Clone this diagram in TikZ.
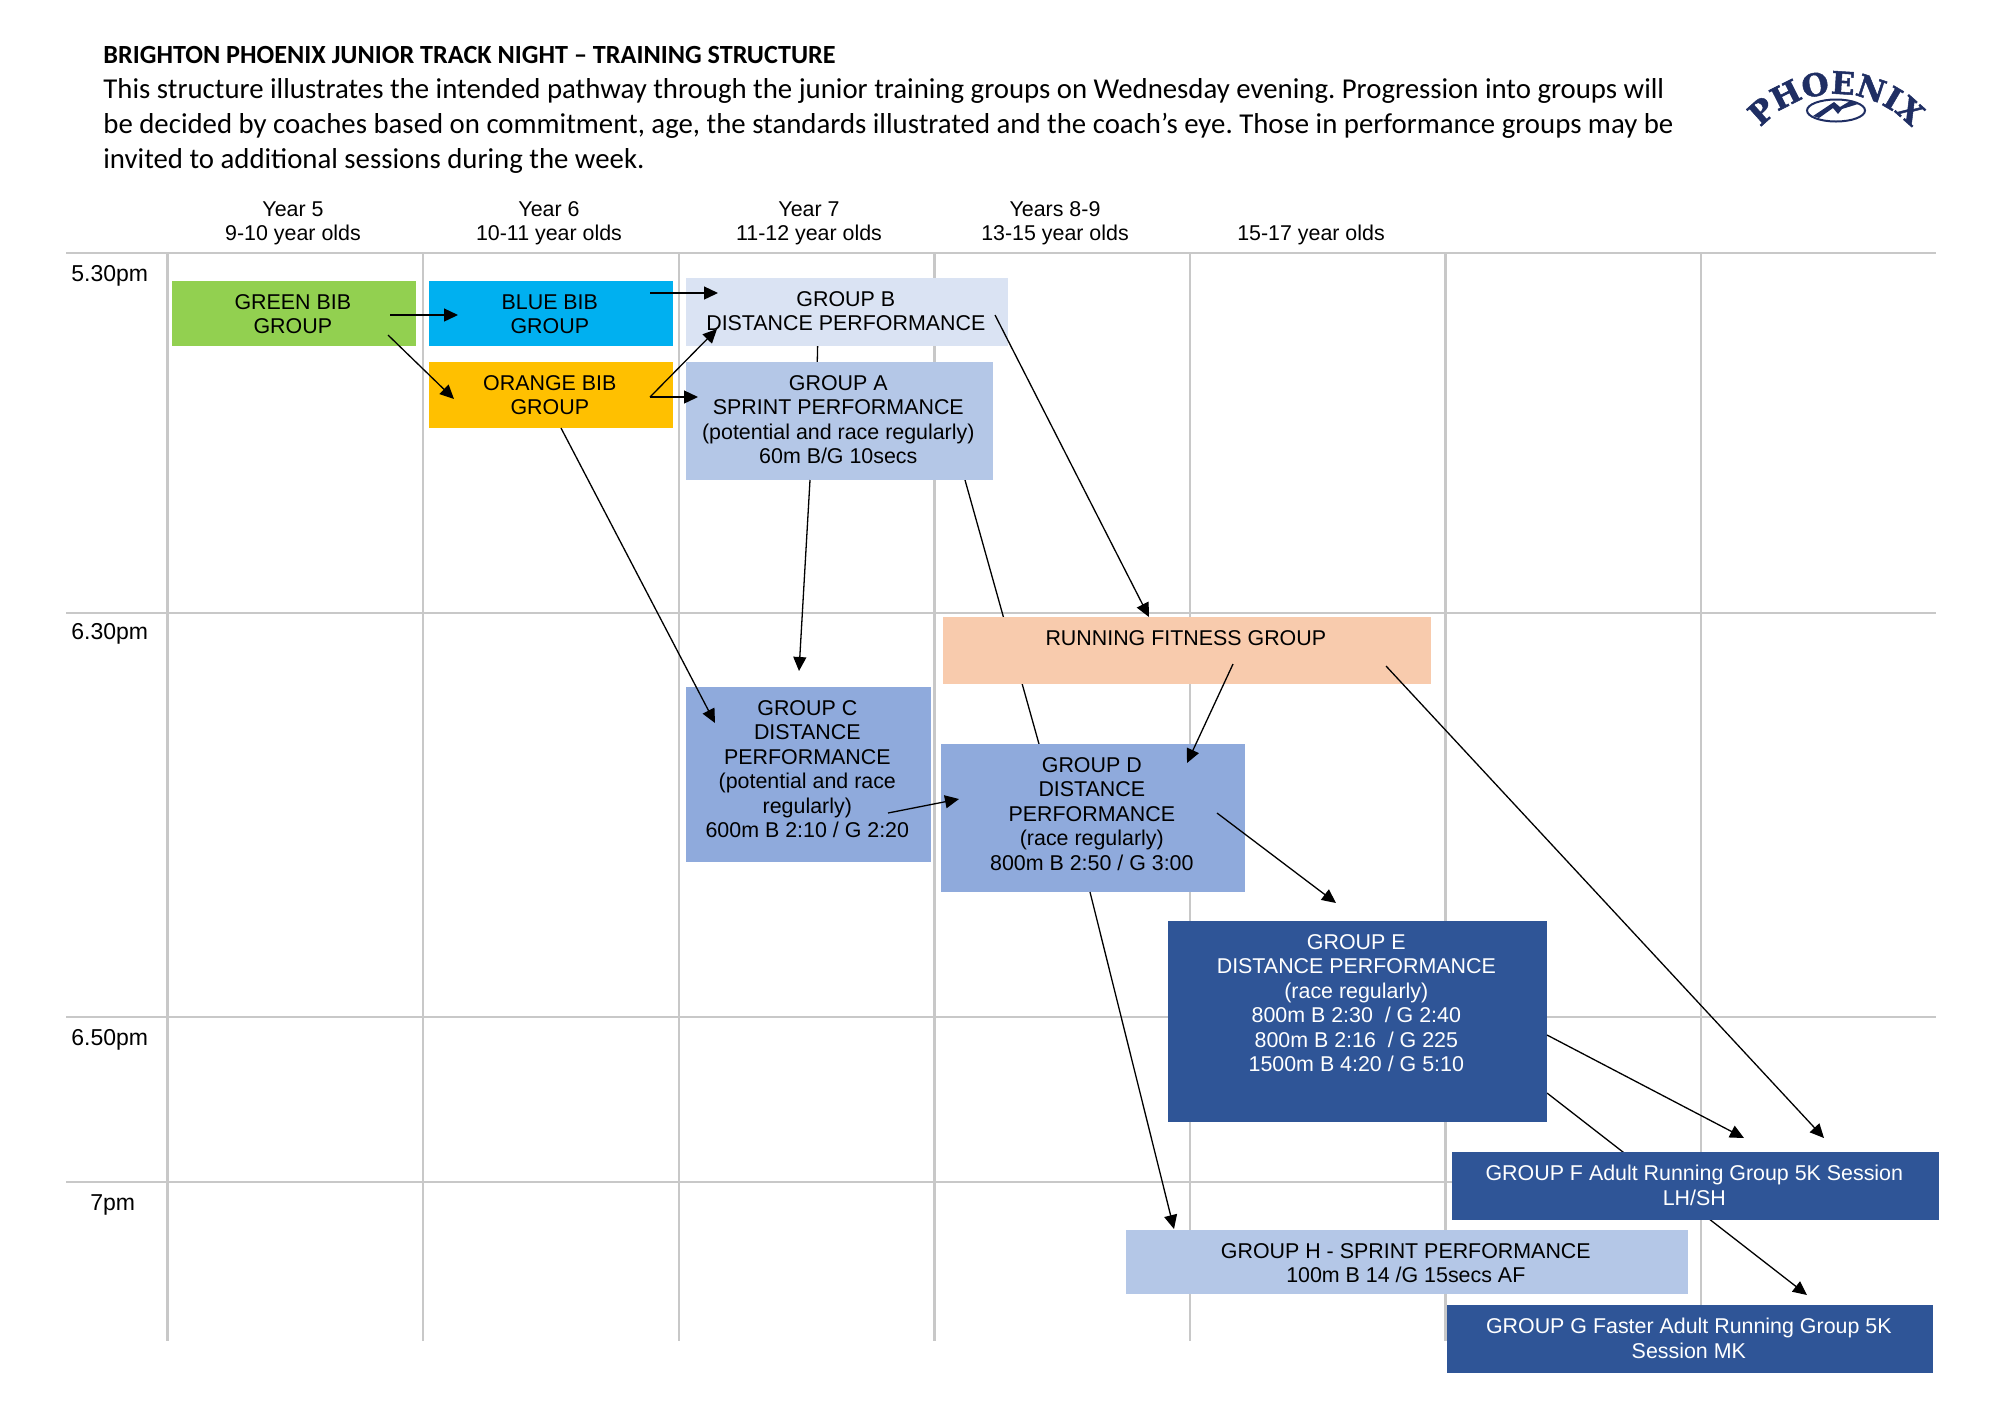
\documentclass[tikz,border=0pt]{standalone}
\usepackage{fontspec}
\setmainfont{Liberation Sans}
\newfontfamily\calibri{Carlito}
\newfontfamily\logofont{DejaVu Serif}[BoldFeatures={FakeBold=1.6}]
\usetikzlibrary{positioning,calc,arrows.meta,decorations.text}
\definecolor{gridgray}{RGB}{200,200,200}
\definecolor{bibgreen}{RGB}{146,208,80}
\definecolor{bibblue}{RGB}{0,176,240}
\definecolor{biborange}{RGB}{255,192,0}
\definecolor{paleblue}{RGB}{218,227,243}
\definecolor{lightblue}{RGB}{180,199,231}
\definecolor{midblue}{RGB}{143,170,220}
\definecolor{darkblue}{RGB}{47,85,151}
\definecolor{peach}{RGB}{248,203,173}
\definecolor{logoblue}{RGB}{31,46,99}
\pgfdeclarelayer{background}
\pgfsetlayers{background,main}
\frenchspacing

\begin{document}
\begin{tikzpicture}[x=0.5pt, y=-0.5pt,
    grp/.style={inner sep=0pt, anchor=north west},
    grptext/.style={inner sep=0pt, align=center, font=\fontsize{10.7}{12.25}\selectfont},
    yeartext/.style={inner sep=0pt, align=center, font=\fontsize{10.7}{12}\selectfont},
    timetext/.style={inner sep=0pt, font=\fontsize{11.5}{12}\selectfont},
    link/.style={line width=0.65pt, -{Triangle[length=7pt,width=6.5pt]}},
    plain/.style={line width=0.65pt},
    gridline/.style={gridgray, line width=1.2pt}]
\useasboundingbox (0,0) rectangle (2000,1415);

% heading
\node[anchor=base west, align=left, inner sep=0pt, font=\calibri\fontsize{14.4}{17.5}\selectfont] (intro) at (103,168)
  {{\bfseries\fontsize{13.1}{17.5}\selectfont BRIGHTON PHOENIX JUNIOR TRACK NIGHT – TRAINING STRUCTURE}\\
   This structure illustrates the intended pathway through the junior training groups on Wednesday evening. Progression into groups will\\
   be decided by coaches based on commitment, age, the standards illustrated and the coach’s eye. Those in performance groups may be\\
   invited to additional sessions during the week.};

% logo
\path[decorate, decoration={text along path, text align=center,
    text={|\logofont\bfseries\fontsize{15.5}{15.5}\selectfont\color{logoblue}|PHOENIX}}]
  (1836,195) ++(160:50.5pt) arc[start angle=160, end angle=20, radius=50.5pt];
\coordinate (logo) at (1836,110.5);
\draw[logoblue, line width=1pt] (logo) ellipse [x radius=14.5pt, y radius=5.5pt];
\fill[logoblue] (1813,116) -- (1834,102) -- (1840,107) -- (1850,101) -- (1858,104) -- (1842,109) -- (1838,114) -- (1833,108) -- (1819,118) -- cycle;

% column and time labels
\foreach \cx/\lab in {293/{Year 5\\9-10 year olds}, 549/{Year 6\\10-11 year olds}, 809/{Year 7\\11-12 year olds}, 1055/{Years 8-9\\13-15 year olds}, 1311/{15-17 year olds}}
  \node[yeartext, anchor=south] (yr\cx) at (\cx,245) {\lab};
\foreach \ty/\tlab/\tx in {281/5.30pm/71, 639/6.30pm/71, 1045/6.50pm/71, 1210/7pm/90}
  \node[timetext, anchor=base west] (time\ty) at (\tx,\ty) {\tlab};

% groups
\node[grp, fill=bibgreen, minimum width=122pt, minimum height=32.5pt] (green) at (172,281) {};
\node[grp, fill=bibblue, minimum width=122pt, minimum height=32.5pt] (blue) at (429,281) {};
\node[grp, fill=biborange, minimum width=122pt, minimum height=33pt] (orange) at (429,362) {};
\node[grp, fill=paleblue, minimum width=161pt, minimum height=34pt] (grpB) at (686,278) {};
\node[grp, fill=lightblue, minimum width=153.5pt, minimum height=59pt] (grpA) at (686,362) {};
\node[grp, fill=peach, minimum width=244pt, minimum height=33.5pt] (fitness) at (943,617) {};
\node[grp, fill=midblue, minimum width=122.5pt, minimum height=87.5pt] (grpC) at (686,687) {};
\node[grp, fill=midblue, minimum width=152pt, minimum height=74pt] (grpD) at (941,744) {};
\node[grp, fill=darkblue, minimum width=189.5pt, minimum height=100.5pt] (grpE) at (1168,921) {};
\node[grp, fill=darkblue, minimum width=243.5pt, minimum height=34pt] (grpF) at (1452,1152) {};
\node[grp, fill=lightblue, minimum width=281pt, minimum height=32pt] (grpH) at (1126,1230) {};
\node[grp, fill=darkblue, minimum width=243pt, minimum height=34pt] (grpG) at (1447,1305) {};

\node[grptext, below=6.5pt of green.north, xshift=-0.8pt] (green-t) {GREEN BIB\\GROUP};
\node[grptext, below=6.5pt of blue.north, xshift=-0.8pt] (blue-t) {BLUE BIB\\GROUP};
\node[grptext, below=6.5pt of orange.north, xshift=-0.8pt] (orange-t) {ORANGE BIB\\GROUP};
\node[grptext, below=6.5pt of grpB.north, xshift=-0.8pt] (grpB-t) {GROUP B\\DISTANCE PERFORMANCE};
\node[grptext, below=6.5pt of grpA.north, xshift=-0.8pt] (grpA-t) {GROUP A\\SPRINT PERFORMANCE\\(potential and race regularly)\\60m B/G 10secs};
\node[grptext, below=6.5pt of fitness.north, xshift=-0.8pt] (fitness-t) {RUNNING FITNESS GROUP};
\node[grptext, below=6.5pt of grpC.north, xshift=-0.8pt] (grpC-t) {GROUP C\\DISTANCE\\PERFORMANCE\\(potential and race\\regularly)\\600m B 2:10 / G 2:20};
\node[grptext, below=6.5pt of grpD.north, xshift=-0.8pt] (grpD-t) {GROUP D\\DISTANCE\\PERFORMANCE\\(race regularly)\\800m B 2:50 / G 3:00};
\node[grptext, text=white, below=6.5pt of grpE.north, xshift=-0.8pt] (grpE-t) {GROUP E\\DISTANCE PERFORMANCE\\(race regularly)\\800m B 2:30~ / G 2:40\\800m B 2:16~ / G 225\\1500m B 4:20 / G 5:10};
\node[grptext, text=white, below=6.5pt of grpF.north, xshift=-0.8pt] (grpF-t) {GROUP F Adult Running Group 5K Session\\LH/SH};
\node[grptext, below=6.5pt of grpH.north, xshift=-0.8pt] (grpH-t) {GROUP H - SPRINT PERFORMANCE\\100m B 14 /G 15secs AF};
\node[grptext, text=white, below=6.5pt of grpG.north, xshift=-0.8pt] (grpG-t) {GROUP G Faster Adult Running Group 5K\\Session MK};

% grid and the lines that run behind the boxes
\begin{pgfonlayer}{background}
  \foreach \k in {0,...,6}
    \draw[gridline] ({167.5+255.6*\k},253) -- ({167.5+255.6*\k},1341);
  \foreach \gy in {253,613,1017,1182}
    \draw[gridline] (66,\gy) -- (1936,\gy);
  \draw[plain] ($(grpB.north west)+(132,51)$) -- ($(grpA.north west)+(131,12)$);
  \draw[plain] ($(grpA.north west)+(279,118)$) -- ($(grpD.north west)+(98,0)$);
  \draw[link] ($(grpE.north west)+(379,172)$) -- ($(grpG.north west)+(360,-10)$);
\end{pgfonlayer}

% pathway
\draw[link] ($(green.north west)+(218,34)$) -- ($(blue.north west)+(29,34)$);
\draw[link] ($(blue.north west)+(221,12)$) -- ($(grpB.north west)+(32,15)$);
\draw[link] ($(green.north west)+(216,54)$) -- ($(orange.north west)+(25,37)$);
\draw[link] ($(orange.north west)+(221,35)$) -- ($(grpB.north west)+(31,51)$);
\draw[link] ($(orange.north west)+(221,35)$) -- ($(grpA.north west)+(12,35)$);
\draw[link] ($(grpB.north west)+(309,37)$) -- ($(fitness.north west)+(206,0)$);
\draw[link] ($(orange.north west)+(132,66)$) -- ($(grpC.north west)+(29,36)$);
\draw[link] ($(grpA.north west)+(124,118)$) -- ($(grpC.north west)+(113,-16)$);
\draw[link] ($(fitness.north west)+(290,47)$) -- ($(grpD.north west)+(246,19)$);
\draw[link] ($(grpC.north west)+(202,126)$) -- ($(grpD.north west)+(18,55)$);
\draw[link] ($(grpD.north west)+(276,69)$) -- ($(grpE.north west)+(168,-18)$);
\draw[link] ($(grpD.north west)+(149,148)$) -- ($(grpH.north west)+(48,-1)$);
\draw[link] ($(fitness.north west)+(443,49)$) -- ($(grpF.north west)+(372,-14)$);
\draw[link] ($(grpE.north west)+(379,114)$) -- ($(grpF.north west)+(292,-14)$);
\end{tikzpicture}
\end{document}
